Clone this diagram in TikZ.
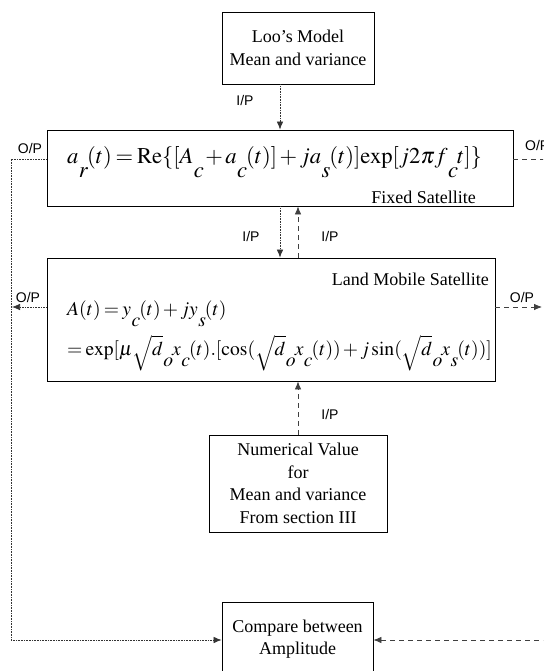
\documentclass[tikz,border=0pt]{standalone}
\usepackage{mathptmx}
\usepackage{fontspec}
\setmainfont{Liberation Serif}
\newfontfamily\labfont{Liberation Sans}
\usetikzlibrary{arrows.meta}
\newcommand{\lsub}[1]{\kern0.02em\lower0.6em\hbox{$#1$}\kern-0.05em}
\newcommand{\tightmath}{\thickmuskip=3mu\medmuskip=2mu}
\newcommand{\rt}[1]{\sqrt{#1\vphantom{\lsub{o}}}}
\begin{document}
\begin{tikzpicture}[x=1pt,y=-1pt,
  box/.style={draw, line width=0.8pt, inner sep=0pt, align=center,
    font=\fontsize{18}{22.5}\selectfont},
  feqs/.style={font=\fontsize{22.6}{27}\selectfont\tightmath, inner sep=0pt, anchor=base west},
  leqs/.style={font=\fontsize{19.6}{24}\selectfont\tightmath, inner sep=0pt, anchor=base west},
  ttl/.style={font=\fontsize{18}{22}\selectfont, inner sep=0pt, anchor=base east},
  lab/.style={font=\labfont\fontsize{14}{16}\selectfont, inner sep=0pt},
  dotl/.style={line width=0.7pt, dash pattern=on 0.8pt off 0.8pt, draw=black!80},
  dashl/.style={line width=0.8pt, dash pattern=on 5pt off 4pt, draw=black!75},
  tip/.style={-{Latex[length=8pt,width=6.5pt]}},
]
\useasboundingbox (0,0) rectangle (543,671);
\clip (0,0) rectangle (543,671);

% boxes
\node[box, minimum width=152pt, minimum height=72pt] (loo) at (298,48)
  {Loo’s Model\\Mean and variance};
\node[box, minimum width=466pt, minimum height=76pt] (fixed) at (280,168) {};
\node[box, minimum width=448pt, minimum height=123pt] (lms) at (271,319.5) {};
\node[box, minimum width=178pt, minimum height=97pt] (num) at (298,483.5)
  {Numerical Value\\for\\Mean and variance\\From section III};
\node[box, minimum width=151pt, minimum height=74pt] (cmp) at (297.5,639)
  {Compare between\\Amplitude};

% contents of the two formula boxes
\node[feqs] (feq) at (67,164)
  {$a\lsub{r}(t) = \mathrm{Re}\{[A\lsub{c} + a\lsub{c}(t)] + ja\lsub{s}(t)]\mathrm{exp}[j2\pi f\lsub{c}t]\}$};
\node[ttl] (ftl) at (476,203) {Fixed Satellite};
\node[ttl] (ltl) at (489,285) {Land Mobile Satellite};
\node[leqs] (leq1) at (67,315) {$A(t) = y\lsub{c}(t) + jy\lsub{s}(t)$};
\node[leqs] (leq2) at (67,355)
  {$= \exp[\mu\rt{d}\lsub{o}x\lsub{c}(t).[\cos(\rt{d}\lsub{o}x\lsub{c}(t)) + j\sin(\rt{d}\lsub{o}x\lsub{s}(t))]$};

% helper coordinates
\coordinate (xa) at (280,0);
\coordinate (xb) at (298,0);
\coordinate (lt) at (11,159);
\coordinate (lb) at (11,640);
\coordinate (lm) at (12,307);
\coordinate (rt) at (560,159);
\coordinate (rb) at (560,640);
\coordinate (rm) at (542,307);

% connectors
\draw[dotl, tip] (loo.south -| xa) -- (fixed.north -| xa);
\draw[dotl, tip] (fixed.south -| xa) -- (lms.north -| xa);
\draw[dashl, tip] (lms.north -| xb) -- (fixed.south -| xb);
\draw[dashl, tip] (num.north) -- (lms.south -| xb);
\draw[dotl, tip] (fixed.west |- lt) -- (lt) -- (lb) -- (cmp.west |- lb);
\draw[dotl, tip] (lms.west |- lm) -- (lm);
\draw[dashl, tip] (fixed.east |- rt) -- (rt) -- (rb) -- (cmp.east |- rb);
\draw[dashl, tip] (lms.east |- rm) -- (rm);

% labels
\node[lab] (ip1) at (245,100) {I/P};
\node[lab] (op1) at (30,148) {O/P};
\node[lab, anchor=west] (op2) at (525,145) {O/P};
\node[lab] (ip2) at (251,236) {I/P};
\node[lab] (ip3) at (330,236) {I/P};
\node[lab] (op3) at (28,297) {O/P};
\node[lab] (op4) at (522,297) {O/P};
\node[lab] (ip4) at (330,414) {I/P};
\end{tikzpicture}
\end{document}
